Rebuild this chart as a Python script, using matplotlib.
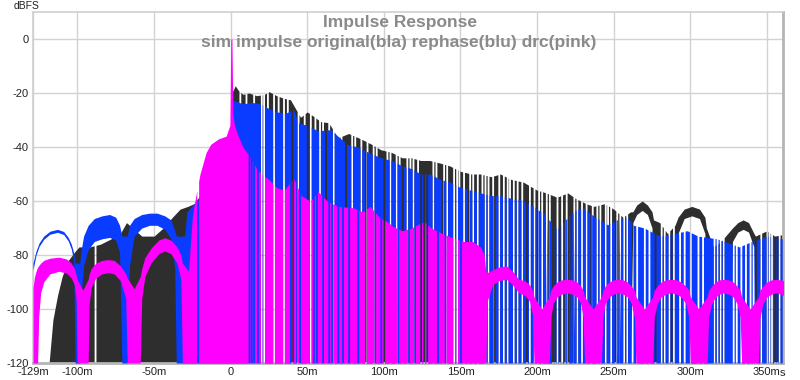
import numpy as np
import matplotlib
matplotlib.use("Agg")
import matplotlib.pyplot as plt

plt.rcParams['font.family'] = ['Liberation Sans', 'DejaVu Sans']

# ---------------- data (time in ms, level in dBFS) ----------------
# each row: time, upper envelope, lower envelope
blk_rows = [
    (-118.5, -120, -120), (-116, -104, -120), (-113, -95, -120), (-110, -88, -120), (-106, -82, -120),
    (-102, -79, -120), (-99, -77, -120), (-92, -77, -120), (-85, -76, -120), (-78, -74, -120),
    (-72, -72, -120), (-68, -68, -120), (-64, -70, -120), (-58, -73, -120), (-50, -73, -120),
    (-44, -70, -120), (-38, -66, -120), (-33, -63, -120), (-28, -62, -120), (-24, -61, -120),
    (-20, -58, -120), (-16, -56, -120), (-10, -55, -120), (-5, -55, -120), (-0.5, -50, -120),
    (0.8, -20, -120), (3, -17.3, -120), (5, -19, -120), (8, -20.5, -120), (12, -20, -120),
    (17, -21, -120), (22, -20.5, -120), (25, -19.5, -120), (30, -21, -120), (35, -22, -120),
    (39, -22.5, -120), (45.6, -29, -120), (50, -27, -120), (55, -29, -120), (58.7, -30.6, -120),
    (64, -31, -120), (70, -36.6, -120), (77, -35, -120), (85, -37, -120), (92, -39, -120),
    (98, -41, -120), (105, -42, -120), (112, -44, -120), (118, -44, -120), (124, -45, -120),
    (130, -45, -120), (137, -46, -120), (143, -47, -120), (150, -49, -120), (157, -50, -120),
    (163, -50, -120), (170, -51, -120), (176, -50, -120), (183, -52, -120), (191, -53, -120),
    (200, -56, -120), (206, -57, -120), (213, -58.6, -120), (220, -57, -120), (225, -59, -120),
    (232, -61, -120), (237, -62, -120), (244, -61, -120), (250, -63, -120), (256, -66, -120),
    (261, -64, -120), (262.5, -64, -68), (265, -61.5, -65), (268.6, -60, -63.5), (272, -61.5, -65),
    (275, -64, -70), (276, -67, -120), (280, -68, -120), (285, -72, -120), (290, -69, -120),
    (292, -66, -72), (296, -63, -66.5), (301, -62, -65.5), (306, -63, -66.5), (309.5, -66, -72),
    (310.5, -70, -120), (315, -77, -120), (320, -75, -120), (326, -71, -120), (327.5, -70, -75),
    (331, -68, -71.5), (334.5, -67, -70.5), (338, -68, -71.5), (341.5, -72, -77), (342.5, -73, -120),
    (350, -71, -120), (355, -73, -120), (360, -72.5, -120),
]

blu_rows = [
    (-129, -83, -85.5), (-127, -78.5, -80), (-125, -75.5, -76.8), (-122, -73, -74.2), (-118, -71.2, -72.3),
    (-113, -70.5, -71.6), (-109, -71.3, -72.4), (-106, -73.5, -74.8), (-104, -76, -77.8), (-102.5, -79, -82),
    (-101.5, -83, -120), (-98.5, -83, -120), (-97.5, -78, -95), (-96, -73, -84), (-93, -69, -78),
    (-89, -66.5, -75), (-84, -65.5, -74), (-79, -65, -73.5), (-75, -66, -74.5), (-72.5, -69, -79),
    (-71, -73, -120), (-67.5, -73, -120), (-66, -69, -84), (-63, -66.5, -73), (-58, -65, -70),
    (-53, -64.5, -69), (-48, -64.5, -69), (-43, -65.5, -70.5), (-39, -67, -74), (-36.5, -71, -85),
    (-35.5, -73, -120), (-30, -73, -120), (-28.5, -64, -120), (-24, -61, -120), (-20, -59, -120),
    (-10, -60, -120), (-0.5, -60, -120), (0.8, -22.5, -120), (3, -23, -120), (8, -24, -120),
    (14, -23.5, -120), (19.5, -24, -120), (24, -25.5, -120), (30, -27, -120), (36, -27.5, -120),
    (41, -26, -120), (44, -31, -120), (50, -32, -120), (57, -34, -120), (65, -33.6, -120),
    (70, -36, -120), (76, -39, -120), (83, -40, -120), (90, -42, -120), (98, -44, -120),
    (105, -45, -120), (112, -47, -120), (118, -48, -120), (124, -50, -120), (130, -50, -120),
    (137, -52, -120), (143, -53, -120), (150, -55, -120), (157, -56, -120), (163, -57, -120),
    (170, -58, -120), (176, -58, -120), (183, -59, -120), (189, -59.5, -120), (197.5, -62, -120),
    (205, -65, -120), (213, -70.6, -120), (220, -66, -120), (226, -63, -120), (230, -62.5, -120),
    (238, -66, -120), (246, -68.8, -120), (252, -67, -120), (259, -66, -120), (263, -69, -120),
    (270, -70, -120), (280, -73, -120), (290, -72, -120), (298, -71, -120), (305, -73, -120),
    (317.5, -74, -120), (325, -75.5, -120), (332, -77, -120), (340, -75, -120), (350, -73, -120),
    (360, -74, -120),
]

pnk_rows = [
    (-129, -92, -120), (-128, -88, -120), (-127, -86, -120), (-126, -84.5, -120), (-125.3, -84, -103),
    (-124, -83, -94), (-122, -82, -90), (-118, -81.2, -87), (-112, -80.8, -86), (-107, -81.5, -86.8),
    (-104, -83, -88.5), (-102, -85, -91), (-100.8, -87.5, -97), (-100.2, -89, -120), (-96.5, -93, -120),
    (-93, -89, -120), (-92.3, -87, -98), (-91, -85, -92), (-88, -83, -88.5), (-84, -82, -87),
    (-80, -81.7, -86.5), (-76, -82, -87), (-72, -84, -89.5), (-68.5, -87, -96), (-67.5, -88.5, -120),
    (-63, -92.5, -120), (-59, -88, -120), (-58, -85, -96), (-56, -81, -88), (-52, -77.5, -83),
    (-47, -74.5, -79.5), (-43, -73.6, -78.5), (-39, -74.5, -79.5), (-35, -77, -83), (-32.5, -80, -89),
    (-31.5, -83, -120), (-27.5, -86, -120), (-25, -66, -120), (-24, -62, -120), (-20, -50, -120),
    (-16, -42, -120), (-13, -39, -120), (-8, -37, -120), (-3, -36, -120), (-0.5, -32, -120),
    (0.1, 0, -120), (0.8, 0, -120), (1.5, -28, -120), (2.5, -32, -120), (5, -36, -120),
    (8, -40, -120), (13, -44, -120), (17, -48, -120), (20, -50, -120), (25, -52, -120),
    (30, -55, -120), (35, -56, -120), (41, -51.5, -120), (46, -58, -120), (52, -60, -120),
    (57, -56.5, -120), (63, -60, -120), (70, -62, -120), (80, -62.5, -120), (86, -64, -120),
    (91, -62, -120), (97, -66, -120), (103, -68, -120), (106, -69.5, -120), (112, -71, -120),
    (118, -70, -120), (126, -67.6, -120), (131, -70, -120), (138, -72, -120), (145, -73.6, -120),
    (152, -75, -120), (158, -75, -120), (163, -77, -120), (165.5, -80, -120), (166.5, -86, -120),
    (167.5, -86.5, -97), (171, -85.5, -91), (175, -84.5, -89.5), (180, -84, -89), (184, -86, -91),
    (188, -89, -94), (192, -89.5, -95), (195, -91, -97), (197, -93, -102), (198, -95.5, -120),
    (203, -100, -120), (208, -95.5, -120), (209, -93, -103), (210.5, -91.5, -98), (213, -90, -95.5),
    (216, -89.2, -94.5), (219.5, -89, -94), (223, -89.2, -94.5), (226, -90, -95.5), (228.5, -91.5, -98),
    (230, -93, -103), (231, -95.5, -120), (236.5, -100, -120), (242, -95.5, -120), (243, -93, -103),
    (244.5, -91.5, -98), (247, -90, -95.5), (250, -89.2, -94.5), (253, -89, -94), (256, -89.2, -94.5),
    (259, -90, -95.5), (261.5, -91.5, -98), (263.5, -93, -103), (264.5, -95.5, -120), (270, -100, -120),
    (275.5, -95.5, -120), (276.5, -93, -103), (278.5, -91.5, -98), (281, -90, -95.5), (284, -89.2, -94.5),
    (287.5, -89, -94), (291, -89.2, -94.5), (294, -90, -95.5), (297, -91.5, -98), (299, -93, -103),
    (300, -95.5, -120), (305.5, -100, -120), (311, -95.5, -120), (312, -93, -103), (314, -91.5, -98),
    (316.5, -90, -95.5), (319, -89.2, -94.5), (322, -89, -94), (325, -89.2, -94.5), (328, -90, -95.5),
    (330.5, -91.5, -98), (332.5, -93, -103), (333.5, -95.5, -120), (339, -100, -120), (344.5, -95.5, -120),
    (345.5, -93, -103), (347.5, -91.5, -98), (350, -90, -95.5), (353, -89.2, -94.5), (356, -89, -94),
    (359, -89.2, -94.5), (361, -89.5, -95),
]

# notches: times where traces drop to the floor
gap_all = [20, 21.5, 28, 34.5, 145.5, 147.5]                       # black + blue + pink
gap_bb = [52, 58, 67, 79, 85, 93, 104, 108, 115, 119, 132, 141, 152, 158, 161, 166, 168, 175, 178,
          180.5, 184.5, 187, 190, 198, 203, 206, 213, 224, 226, 229, 232, 239, 241, 244.5, 248, 254,
          256.5, 258.5, 281, 283, 286, 289, 315.5, 317.5, 319.5, 321.5, 346, 350, 351.5, 353, 358]
gap_blk = [-88.5, 6, 10, 15, 24, 31, 37, 44, 48, 55, 60, 64, 72, 81, 89, 95, 102, 110, 117, 122, 134,
           139, 149, 156, 164, 171, 182, 195, 201, 208, 216, 219, 236, 246, 252]
gap_blu = [40, 43.7, 50, 62, 75, 88, 100, 112, 124, 126, 128, 138, 155, 172, 193, 195, 200, 207, 210,
           211.5, 214.5, 216, 218, 220, 222, 223, 235, 251, 253, 262, 265, 270, 273, 277, 287.5, 293, 296,
           300, 305, 308, 328, 330, 333, 336, 339, 341, 342.5, 355, 356.5]
gap_pnk = [-21.5, 12, 13.5, 15, 17.5, 39, 40.5, 43, 45, 52, 54, 56, 60, 64, 66, 70, 73, 77, 83, 88, 94,
           98, 100, 109, 116, 120, 124, 126, 128, 135, 140, 150]

x_ticks = [-129, -100, -50, 0, 50, 100, 150, 200, 250, 300, 350]
x_labels = ["-129m", "-100m", "-50m", "0", "50m", "100m", "150m", "200m", "250m", "300m", "350m"]
y_ticks = [0, -20, -40, -60, -80, -100, -120]
title1 = "Impulse Response"
title2 = "sim impulse original(bla) rephase(blu) drc(pink)"

FLOOR = -120.0


def build(rows, notches, w=1.2):
    arr = np.asarray(rows, float)
    t, hi, lo = arr[:, 0], arr[:, 1], arr[:, 2]
    notches = sorted(set(notches))
    keep = np.ones(len(t), bool)
    for c in notches:
        keep &= ~((t > c - w / 2) & (t < c + w / 2))
    xs, yh, yl = list(t[keep]), list(hi[keep]), list(lo[keep])
    for c in notches:
        a, b = c - w / 2, c + w / 2
        ha, hb = np.interp([a, b], t, hi)
        la, lb = np.interp([a, b], t, lo)
        xs += [a, a, b, b]
        yh += [ha, FLOOR, FLOOR, hb]
        yl += [la, FLOOR, FLOOR, lb]
    order = np.argsort(np.asarray(xs), kind="stable")
    return np.asarray(xs)[order], np.asarray(yh)[order], np.asarray(yl)[order]


fig = plt.figure(figsize=(8, 3.8), dpi=100)
ax = fig.add_axes([33 / 800, 1 - 363 / 380, 750 / 800, 351 / 380])

series = [
    (blk_rows, gap_all + gap_bb + gap_blk, "#2e2e2e", 2),
    (blu_rows, gap_all + gap_bb + gap_blu, "#0a3cff", 3),
    (pnk_rows, gap_all + gap_pnk, "#ff00ff", 4),
]
for rows, g, col, z in series:
    x, yh, yl = build(rows, g)
    ax.fill_between(x, yl, yh, color=col, linewidth=0, zorder=z)

ax.set_xlim(-129, 360.5)
ax.set_ylim(-120, 10)
ax.set_xticks(x_ticks)
ax.set_xticklabels(x_labels)
ax.set_yticks(y_ticks)
ax.set_yticklabels([str(v) for v in y_ticks])
ax.tick_params(length=0, labelsize=8, colors="#222222", pad=3)
ax.grid(True, color="#d2d2d2", linewidth=1, zorder=0)
ax.set_axisbelow(True)
for s in ["left", "top"]:
    ax.spines[s].set_color("#cfcfcf")
    ax.spines[s].set_linewidth(1.2)
for s in ["right", "bottom"]:
    ax.spines[s].set_color("#b5b5b5")
    ax.spines[s].set_linewidth(2)

ax.text(0.489, 1 - 10 / 351, title1, transform=ax.transAxes, ha="center", va="center",
        fontsize=12.5, fontweight="bold", color="#8a8a8a", zorder=1.5)
ax.text(0.487, 1 - 30 / 351, title2, transform=ax.transAxes, ha="center", va="center",
        fontsize=12.5, fontweight="bold", color="#8a8a8a", zorder=1.5)
fig.text(27 / 800, 1 - 6 / 380, "dBFS", fontsize=7.5, color="#222222", ha="center", va="center")
fig.text(782 / 800, 1 - 373 / 380, "s", fontsize=8, color="#222222", ha="center", va="center")

fig.savefig("out.png", dpi=100)
